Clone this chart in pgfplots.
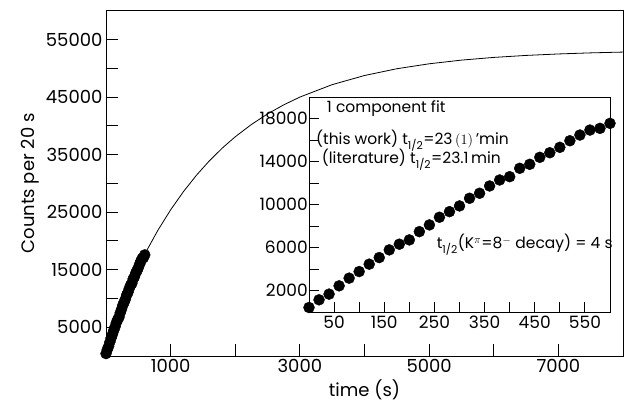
\documentclass[border=0pt]{standalone}
\usepackage{pgfplots}
\pgfplotsset{compat=1.18}
\usepackage{pgfplotstable}
\usepackage{fontspec}
\setmainfont{Poppins}

% counts per 20 s, first 600 s
\pgfplotstableread{
t c
0 419
20 1135
40 1665
60 2437
80 3153
100 3767
120 4456
140 5070
160 5786
180 6316
200 6716
220 7488
240 8112
260 8828
280 9349
300 9879
320 10595
340 11060
360 11740
380 12298
400 12605
420 13386
440 13758
460 14409
480 14837
500 15340
520 15953
540 16484
560 16949
580 17107
600 17572
}\decaydata

% fitted growth curve beyond the data
\pgfplotstableread{
t c
600 17714
800 21787
1000 25394
1200 28587
1400 31417
1600 33919
1800 36135
2000 38095
2250 40228
2500 42065
2750 43641
3000 44992
3500 47152
4000 48738
4500 49915
5000 50775
5500 51414
6000 51883
6500 52229
7000 52485
7500 52673
8000 52812
}\fitcurve

\begin{document}
\begin{tikzpicture}
\pgfplotsset{
  every tick/.style={black, line width=0.9pt},
  every axis/.append style={axis line style={line width=0.9pt}, scaled ticks=false},
}
\begin{axis}[
  scale only axis, width=517pt, height=345.3pt,
  xmin=0, xmax=8000, ymin=0, ymax=60000,
  tick align=inside, xtick pos=bottom, ytick pos=left,
  major tick length=12pt,
  xtick={1000,2000,...,7000}, xticklabels={1000,,3000,,5000,,7000},
  ytick={5000,10000,...,55000},
  yticklabels={5000,,15000,,25000,,35000,,45000,,55000},
  tick label style={font=\fontsize{18}{20}\selectfont},
  label style={font=\fontsize{18}{20}\selectfont},
  xlabel={time (s)}, ylabel={Counts per 20 s},
  clip=false,
]
\addplot[black, line width=0.8pt] table[x=t, y=c] {\fitcurve};
\addplot[only marks, mark=*, mark size=5.5pt, black] table[x=t, y=c] {\decaydata};
\end{axis}

\begin{axis}[
  at={(203pt,44pt)},
  scale only axis, width=301pt, height=214.7pt,
  xmin=0, xmax=600, ymin=0, ymax=20000,
  axis background/.style={fill=white},
  tick align=inside, xtick pos=bottom, ytick pos=left,
  major tick length=10pt,
  xtick={50,100,...,550}, xticklabels={50,,150,,250,,350,,450,,550},
  ytick={2000,4000,...,18000},
  yticklabels={2000,,6000,,10000,,14000,,18000},
  yticklabel style={inner xsep=1pt},
  tick label style={font=\fontsize{17}{19}\selectfont},
  clip=false,
]
\addplot[only marks, mark=*, mark size=5.5pt, black] table[x=t, y=c] {\decaydata};
\node[anchor=base west, inner sep=0pt, font=\fontsize{15.5}{17}\selectfont]
  at (rel axis cs:0.059,0.930) {1 component fit};
\node[anchor=base west, inner sep=0pt, font=\fontsize{15.5}{17}\selectfont]
  at (rel axis cs:0.023,0.782) {(this work) t\textsubscript{1/2}=23\,$(1)$\,'min};
\node[anchor=base west, inner sep=0pt, font=\fontsize{15.5}{17}\selectfont]
  at (rel axis cs:0.042,0.693) {(literature) t\textsubscript{1/2}=23.1\,min};
\node[anchor=base west, inner sep=0pt, font=\fontsize{15.5}{17}\selectfont]
  at (rel axis cs:0.424,0.297) {t\textsubscript{1/2}(K$^{\pi}$=8$^{-}$ decay) = 4 s};
\end{axis}

\path (-106pt,-48pt) rectangle (518pt,356pt);
\end{tikzpicture}
\end{document}
